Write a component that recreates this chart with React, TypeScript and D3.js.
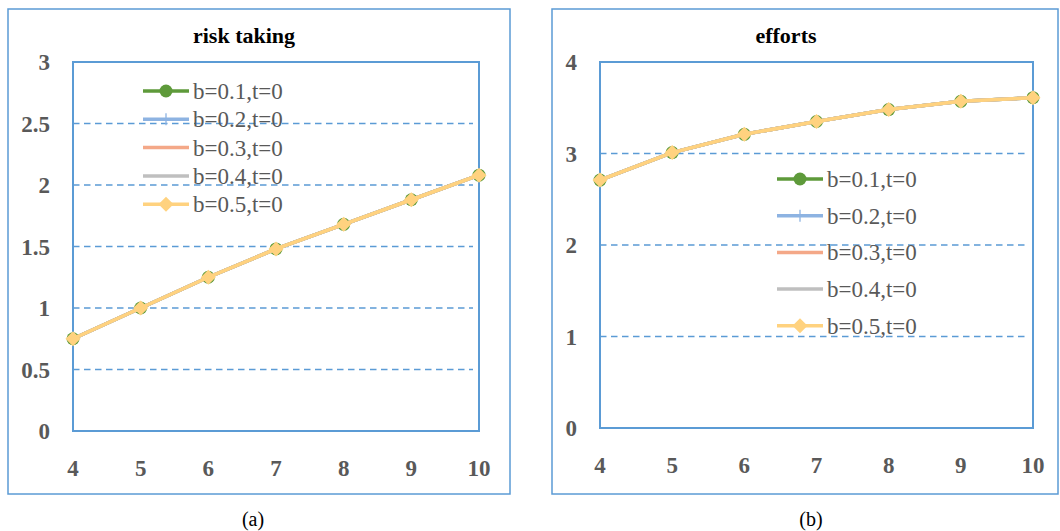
import React from "react";
import * as d3 from "d3";

const xCats = [4, 5, 6, 7, 8, 9, 10];
const seriesNames = ["b=0.1,t=0", "b=0.2,t=0", "b=0.3,t=0", "b=0.4,t=0", "b=0.5,t=0"];

const riskB1 = [0.75, 1.0, 1.25, 1.48, 1.68, 1.88, 2.08];
const riskB2 = [0.75, 1.0, 1.25, 1.48, 1.68, 1.88, 2.08];
const riskB3 = [0.75, 1.0, 1.25, 1.48, 1.68, 1.88, 2.08];
const riskB4 = [0.75, 1.0, 1.25, 1.48, 1.68, 1.88, 2.08];
const riskB5 = [0.75, 1.0, 1.25, 1.48, 1.68, 1.88, 2.08];

const effB1 = [2.71, 3.01, 3.21, 3.35, 3.48, 3.57, 3.61];
const effB2 = [2.71, 3.01, 3.21, 3.35, 3.48, 3.57, 3.61];
const effB3 = [2.71, 3.01, 3.21, 3.35, 3.48, 3.57, 3.61];
const effB4 = [2.71, 3.01, 3.21, 3.35, 3.48, 3.57, 3.61];
const effB5 = [2.71, 3.01, 3.21, 3.35, 3.48, 3.57, 3.61];

const riskTicks = [0, 0.5, 1, 1.5, 2, 2.5, 3];
const effTicks = [0, 1, 2, 3, 4];

const colors = ["#5E9A3A", "#8DB3E2", "#F4A888", "#BFBFBF", "#FFD27F"];
const markers = ["circle", "plus", "none", "none", "diamond"];
const FRAME = "#5B9BD5";
const SERIF = "'Liberation Serif', 'Times New Roman', serif";

function Marker({ type, x, y, color }: { type: string; x: number; y: number; color: string }) {
  if (type === "circle")
    return <circle cx={x} cy={y} r={6.5} fill={color} />;
  if (type === "plus")
    return (
      <path d={`M${x - 5},${y}H${x + 5}M${x},${y - 6}V${y + 6}`} stroke={color} strokeWidth={1.3} />
    );
  if (type === "diamond")
    return (
      <path d={`M${x},${y - 7.5}L${x + 7.5},${y}L${x},${y + 7.5}L${x - 7.5},${y}Z`} fill={color} />
    );
  return null;
}

type PanelProps = {
  frame: { x0: number; y0: number; x1: number; y1: number };
  plot: { x0: number; y0: number; x1: number; y1: number };
  title: string;
  titleX: number;
  yMax: number;
  ticks: number[];
  data: number[][];
  legend: { x: number; y0: number; dy: number };
  caption: string;
  captionX: number;
};

function Panel(p: PanelProps) {
  const x = d3.scaleLinear().domain([4, 10]).range([p.plot.x0, p.plot.x1]);
  const y = d3.scaleLinear().domain([0, p.yMax]).range([p.plot.y1, p.plot.y0]);
  const line = d3
    .line<number>()
    .x((_, i) => x(xCats[i]))
    .y((d) => y(d));
  return (
    <g>
      <rect
        x={p.frame.x0}
        y={p.frame.y0}
        width={p.frame.x1 - p.frame.x0}
        height={p.frame.y1 - p.frame.y0}
        fill="white"
        stroke={FRAME}
        strokeWidth={1.5}
      />
      <text
        x={p.titleX}
        y={43}
        textAnchor="middle"
        fontFamily={SERIF}
        fontWeight="bold"
        fontSize={22}
        fill="#000"
      >
        {p.title}
      </text>
      {p.ticks
        .filter((t) => t > 0 && t < p.yMax)
        .map((t) => (
          <line
            key={t}
            x1={p.plot.x0}
            x2={p.plot.x1 - 6}
            y1={y(t)}
            y2={y(t)}
            stroke={FRAME}
            strokeWidth={1.4}
            strokeDasharray="6.5,4.5"
          />
        ))}
      <rect
        x={p.plot.x0}
        y={p.plot.y0}
        width={p.plot.x1 - p.plot.x0}
        height={p.plot.y1 - p.plot.y0}
        fill="none"
        stroke={FRAME}
        strokeWidth={2}
      />
      {p.ticks.map((t) => (
        <text
          key={t}
          x={p.plot.x0 - 23}
          y={y(t)}
          dy="0.35em"
          textAnchor="end"
          fontFamily={SERIF}
          fontWeight="bold"
          fontSize={23}
          fill="#595959"
        >
          {t}
        </text>
      ))}
      {xCats.map((c) => (
        <text
          key={c}
          x={x(c)}
          y={p.plot.y1 + 37}
          dy="0.35em"
          textAnchor="middle"
          fontFamily={SERIF}
          fontWeight="bold"
          fontSize={23}
          fill="#595959"
        >
          {c}
        </text>
      ))}
      {p.data.map((s, si) => (
        <g key={si}>
          <path d={line(s) || ""} fill="none" stroke={colors[si]} strokeWidth={3.5} strokeLinejoin="round" />
          {s.map((v, i) => (
            <Marker key={i} type={markers[si]} x={x(xCats[i])} y={y(v)} color={colors[si]} />
          ))}
        </g>
      ))}
      {seriesNames.map((n, i) => {
        const ly = p.legend.y0 + i * p.legend.dy;
        return (
          <g key={n}>
            <line
              x1={p.legend.x}
              x2={p.legend.x + 46}
              y1={ly}
              y2={ly}
              stroke={colors[i]}
              strokeWidth={3.5}
            />
            <Marker type={markers[i]} x={p.legend.x + 23} y={ly} color={colors[i]} />
            <text
              x={p.legend.x + 50}
              y={ly}
              dy="0.35em"
              fontFamily={SERIF}
              fontSize={23}
              fill="#595959"
            >
              {n}
            </text>
          </g>
        );
      })}
      <text
        x={p.captionX}
        y={519}
        dy="0.35em"
        textAnchor="middle"
        fontFamily={SERIF}
        fontSize={20}
        fill="#000"
      >
        {p.caption}
      </text>
    </g>
  );
}

export default function App() {
  return (
    <svg
      width={1060}
      height={531}
      style={{ position: "absolute", left: 0, top: 0, background: "white" }}
    >
      <rect width={1060} height={531} fill="white" />
      <Panel
        frame={{ x0: 8, y0: 9, x1: 510, y1: 494 }}
        plot={{ x0: 73, y0: 62, x1: 479, y1: 431 }}
        title="risk taking"
        titleX={244}
        yMax={3}
        ticks={riskTicks}
        data={[riskB1, riskB2, riskB3, riskB4, riskB5]}
        legend={{ x: 143, y0: 91, dy: 28.3 }}
        caption="(a)"
        captionX={253}
      />
      <Panel
        frame={{ x0: 552, y0: 9, x1: 1058, y1: 494 }}
        plot={{ x0: 600, y0: 62, x1: 1033, y1: 428 }}
        title="efforts"
        titleX={786}
        yMax={4}
        ticks={effTicks}
        data={[effB1, effB2, effB3, effB4, effB5]}
        legend={{ x: 777, y0: 179, dy: 36.7 }}
        caption="(b)"
        captionX={811}
      />
    </svg>
  );
}
